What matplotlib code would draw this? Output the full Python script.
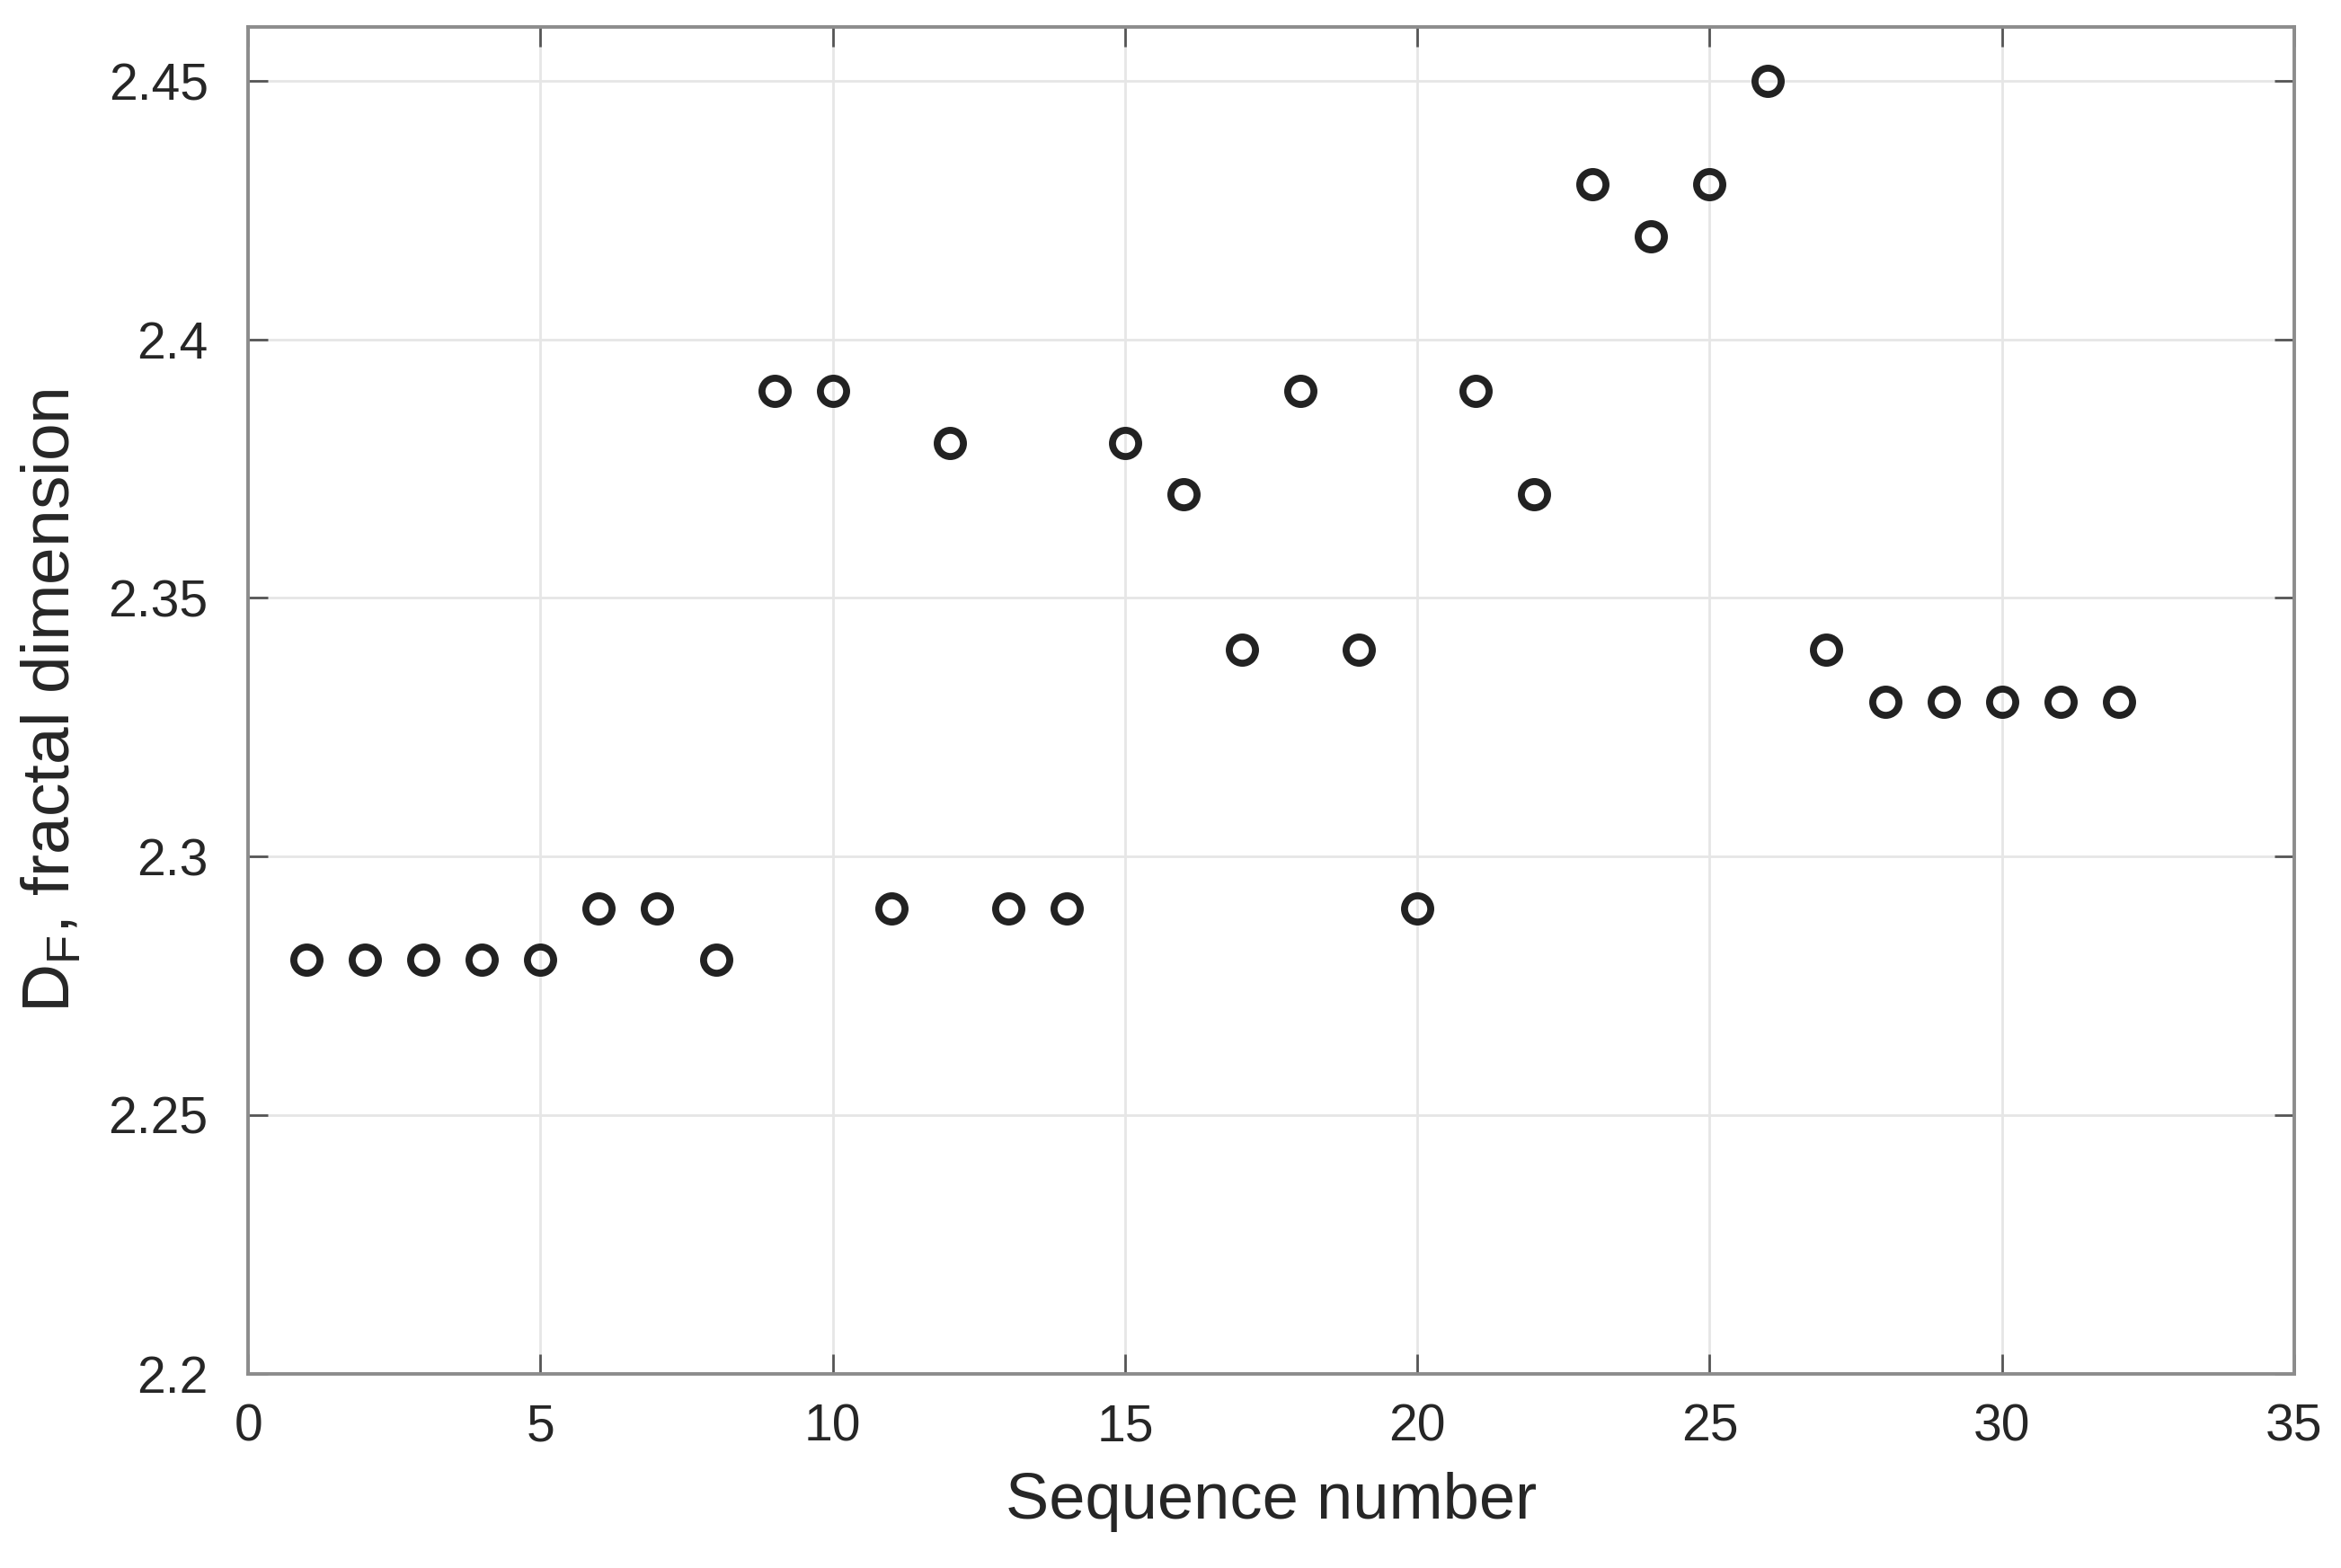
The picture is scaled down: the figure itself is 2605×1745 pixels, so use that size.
import matplotlib
matplotlib.use("Agg")
import matplotlib.pyplot as plt
import numpy as np

seq = np.arange(1, 33)
df = [2.28, 2.28, 2.28, 2.28, 2.28, 2.29, 2.29, 2.28, 2.39, 2.39,
      2.29, 2.38, 2.29, 2.29, 2.38, 2.37, 2.34, 2.39, 2.34, 2.29,
      2.39, 2.37, 2.43, 2.42, 2.43, 2.45, 2.34, 2.33, 2.33, 2.33,
      2.33, 2.33]
xticks = [0, 5, 10, 15, 20, 25, 30, 35]
yticks = [2.2, 2.25, 2.3, 2.35, 2.4, 2.45]
ytick_labels = ["2.2", "2.25", "2.3", "2.35", "2.4", "2.45"]

plt.rcParams["font.family"] = ["Liberation Sans", "DejaVu Sans"]
plt.rcParams["mathtext.fontset"] = "custom"
plt.rcParams["mathtext.rm"] = "Liberation Sans"

fig = plt.figure(figsize=(13.025, 8.725), dpi=200)
ax = fig.add_axes([0.106, 0.124, 0.874, 0.859])

ax.plot(seq, df, linestyle="none", marker="o", markersize=10.5,
        markerfacecolor="none", markeredgecolor="#222222", markeredgewidth=2.8,
        zorder=3)

ax.set_xlim(0, 35)
ax.set_ylim(2.2, 2.4605)
ax.set_xticks(xticks)
ax.set_yticks(yticks)
ax.set_yticklabels(ytick_labels)

ax.grid(True, color="#e6e6e6", linewidth=1.0)
ax.set_axisbelow(True)

for s in ax.spines.values():
    s.set_color("#8c8c8c")
    s.set_linewidth(1.4)

ax.tick_params(direction="in", length=8, width=1.0, color="#555555",
               top=True, right=True, labelsize=20.5, labelcolor="#262626",
               pad=12)
ax.tick_params(axis="y", pad=16)

ax.set_xlabel("Sequence number", fontsize=26, color="#262626", labelpad=8)
ax.set_ylabel(r"D$_\mathregular{F}$, fractal dimension", fontsize=27,
              color="#262626", labelpad=10)

fig.savefig("out.png", dpi=200)
